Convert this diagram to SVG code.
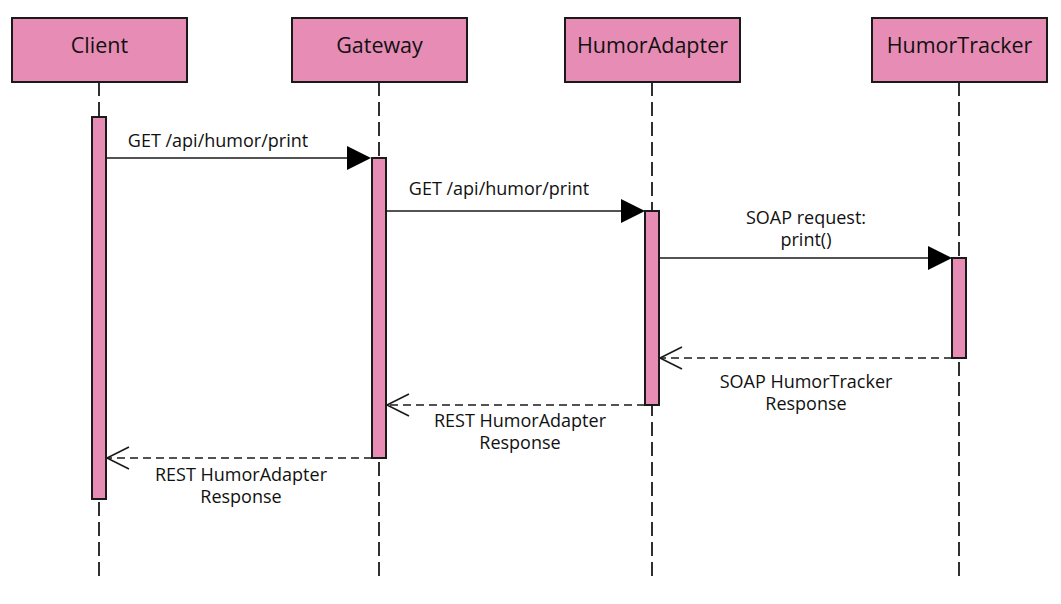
<svg xmlns="http://www.w3.org/2000/svg" width="1061" height="604" viewBox="0 0 1061 604">
<style>
.box{fill:#e78cb5;stroke:#1a1a1a;stroke-width:2}
.act{fill:#e78cb5;stroke:#1a1a1a;stroke-width:2}
.life{stroke:#1a1a1a;stroke-width:1.8;stroke-dasharray:14 6;fill:none}
.msg{stroke:#1a1a1a;stroke-width:1.6;fill:none}
.ret{stroke:#1a1a1a;stroke-width:1.6;stroke-dasharray:8 5;fill:none}
.open{stroke:#1a1a1a;stroke-width:1.6;fill:none}
.head{fill:#000}
.t{font-family:"Open Sans","DejaVu Sans",sans-serif;fill:#111;text-anchor:middle}
.h{font-size:21.5px}
.l{font-size:18px}
</style>
<rect width="1061" height="604" fill="#fff"/>
<g id="lifelines">
<line class="life" x1="99" y1="82" x2="99" y2="576"/>
<line class="life" x1="379" y1="82" x2="379" y2="576"/>
<line class="life" x1="652" y1="82" x2="652" y2="576"/>
<line class="life" x1="959" y1="82" x2="959" y2="576"/>
</g>
<g id="client">
<rect class="box" x="12" y="18" width="175" height="64"/>
<text class="t h" x="99.5" y="53">Client</text>
<rect class="act" x="92" y="117" width="14" height="382"/>
</g>
<g id="gateway">
<rect class="box" x="292" y="18" width="175" height="64"/>
<text class="t h" x="379.5" y="53">Gateway</text>
<rect class="act" x="372" y="158" width="14" height="300"/>
</g>
<g id="humoradapter">
<rect class="box" x="565" y="18" width="175" height="64"/>
<text class="t h" x="652.5" y="53">HumorAdapter</text>
<rect class="act" x="645" y="211" width="14" height="194"/>
</g>
<g id="humortracker">
<rect class="box" x="872" y="18" width="175" height="64"/>
<text class="t h" x="959.5" y="53">HumorTracker</text>
<rect class="act" x="952" y="258" width="14" height="100"/>
</g>
<g id="connectors">
<line class="msg" x1="106" y1="158" x2="350" y2="158"/>
<polygon class="head" points="347,146 371,158 347,170"/>
<text class="t l" x="218" y="147">GET /api/humor/print</text>

<line class="msg" x1="386" y1="211" x2="623" y2="211"/>
<polygon class="head" points="621,199 645,211 621,223"/>
<text class="t l" x="499" y="195">GET /api/humor/print</text>

<line class="msg" x1="659" y1="258" x2="930" y2="258"/>
<polygon class="head" points="928,246 952,258 928,270"/>
<text class="t l" x="806" y="224">SOAP request:</text>
<text class="t l" x="806" y="246">print()</text>

<line class="ret" x1="952" y1="358" x2="660" y2="358"/>
<polyline class="open" points="682,347 660,358 682,369"/>
<text class="t l" x="806" y="388">SOAP HumorTracker</text>
<text class="t l" x="806" y="410">Response</text>

<line class="ret" x1="645" y1="405" x2="387" y2="405"/>
<polyline class="open" points="409,394 387,405 409,416"/>
<text class="t l" x="520" y="427">REST HumorAdapter</text>
<text class="t l" x="520" y="449">Response</text>

<line class="ret" x1="372" y1="458" x2="107" y2="458"/>
<polyline class="open" points="129,447 107,458 129,469"/>
<text class="t l" x="241" y="481">REST HumorAdapter</text>
<text class="t l" x="241" y="503">Response</text>
</g>
</svg>
